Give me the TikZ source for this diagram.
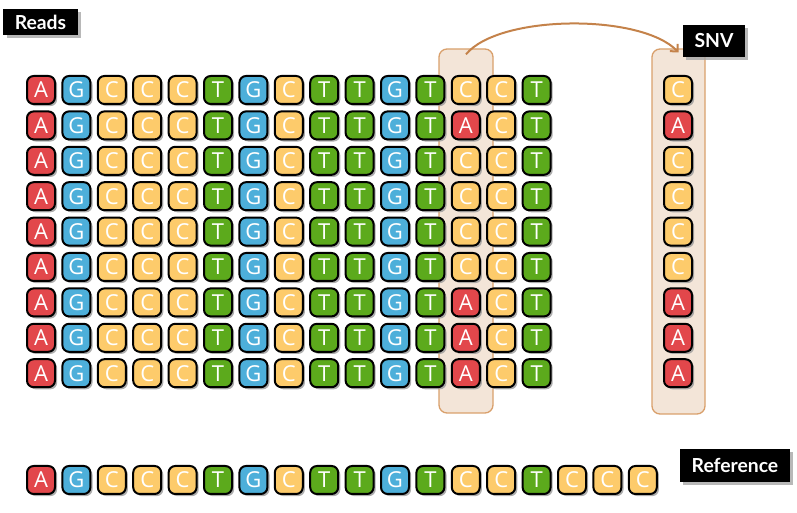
\documentclass[tikz,border=0pt]{standalone}
\usepackage{fontspec}
\setmainfont{Open Sans}
\newfontfamily\labelfont{Lato}
\usetikzlibrary{shadows,arrows.meta}
\definecolor{cA}{HTML}{E2474B}
\definecolor{cG}{HTML}{4DAFDA}
\definecolor{cC}{HTML}{FDCB6B}
\definecolor{cT}{HTML}{5CAA1C}
\definecolor{tanfill}{HTML}{F3E5D8}
\definecolor{tanedge}{HTML}{D9A06C}
\definecolor{arrowc}{HTML}{C4824A}
\tikzset{
  tile/.style={rounded corners=5pt, draw=black, line width=1.5pt,
    minimum width=21pt, minimum height=21pt, inner sep=0pt, text=white,
    font=\fontsize{16.5}{16.5}\selectfont,
    drop shadow={shadow xshift=1.6pt, shadow yshift=-1.6pt, fill=black!40, opacity=0.8}},
  colbox/.style={rounded corners=6pt, draw=tanedge, fill=tanfill, line width=1pt, inner sep=0pt},
  tag/.style={fill=black, text=white, inner sep=0pt, font=\labelfont\bfseries\fontsize{14.5}{14.5}\selectfont,
    drop shadow={shadow xshift=2.5pt, shadow yshift=-2.5pt, fill=black!35, opacity=0.8}},
  link/.style={draw=arrowc, line width=1.5pt, -{Straight Barb[length=4pt,width=8pt]}}
}
\begin{document}
\begin{tikzpicture}[x=0.75pt,y=-0.75pt]
\useasboundingbox (0,0) rectangle (797,513);
% highlight boxes
\node[colbox, minimum width=40.5pt, minimum height=273pt] (cb) at (466,231) {};
\node[colbox, minimum width=39.75pt, minimum height=273.75pt] (sb) at (678.5,231.5) {};
% reads grid and SNV column
\foreach \v [count=\j] in {C,A,C,C,C,C,A,A,A} {
  \foreach \l [count=\i] in {A,G,C,C,C,T,G,C,T,T,G,T,\v,C,T} {
    \node[tile, fill=c\l] (r\j-\i) at ({41+35.4*(\i-1)}, {90+35.4*(\j-1)}) {\l};
  }
  \node[tile, fill=c\v] (s\j) at (678, {90+35.4*(\j-1)}) {\v};
}
% reference row
\foreach \l [count=\i] in {A,G,C,C,C,T,G,C,T,T,G,T,C,C,T,C,C,C} {
  \node[tile, fill=c\l] (ref\i) at ({41+35.4*(\i-1)}, 480) {\l};
}
% arrow
\draw[link] ([yshift=-4.5pt]cb.north) .. controls +(33,-40) and +(-38,-39) .. ([yshift=-3pt]sb.north);
% labels
\node[tag, minimum width=56pt, minimum height=19.5pt] (reads) at (40.5,22) {Reads};
\node[tag, minimum width=46.5pt, minimum height=24pt] (snv) at (714,41) {SNV};
\node[tag, minimum width=82.5pt, minimum height=25pt] (reflab) at (735,465.5) {Reference};
\end{tikzpicture}
\end{document}
